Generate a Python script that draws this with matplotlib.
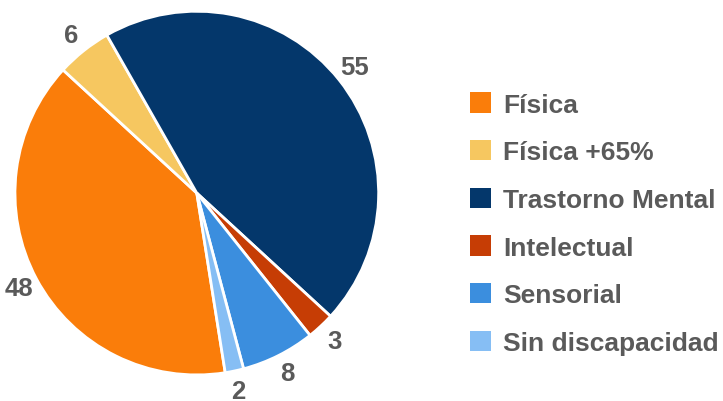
import matplotlib.pyplot as plt
import numpy as np

# data
categories = ['Física', 'Física +65%', 'Trastorno Mental', 'Intelectual', 'Sensorial', 'Sin discapacidad']
values = [48, 6, 55, 3, 8, 2]
colors = ['#FA7D0A', '#F6C760', '#04376B', '#C63D05', '#3B8EDE', '#86BEF4']

plt.rcParams['font.family'] = ['Liberation Sans', 'DejaVu Sans']
txtcol = '#5a5a5a'

fig = plt.figure(figsize=(7.23, 4.02), dpi=100)
ax = fig.add_axes([0.0207, 0.0647, 0.503, 0.905])

wedges, _ = ax.pie(values, colors=colors, startangle=-81, counterclock=False,
                   wedgeprops=dict(edgecolor='white', linewidth=2))
ax.set_aspect('equal')
ax.set_xlim(-1, 1)
ax.set_ylim(-1, 1)

#value labels just outside each wedge
for w, v in zip(wedges, values):
    ang = np.deg2rad((w.theta1 + w.theta2) / 2)
    r = 1.11
    ax.text(r * np.cos(ang), r * np.sin(ang), str(v), ha='center', va='center',
            fontsize=18.5, fontweight='bold', color=txtcol)

leg = fig.legend(wedges, categories, loc='center left', bbox_to_anchor=(0.6354, 0.441),
                 frameon=False, fontsize=19, handlelength=0.8, handleheight=0.8,
                 handletextpad=0.45, labelspacing=0.886, borderaxespad=0)
for t in leg.get_texts():
    t.set_color(txtcol)
    t.set_fontweight('bold')
for h in leg.legend_handles:
    h.set_edgecolor('none')

fig.savefig('out.png', dpi=100)
